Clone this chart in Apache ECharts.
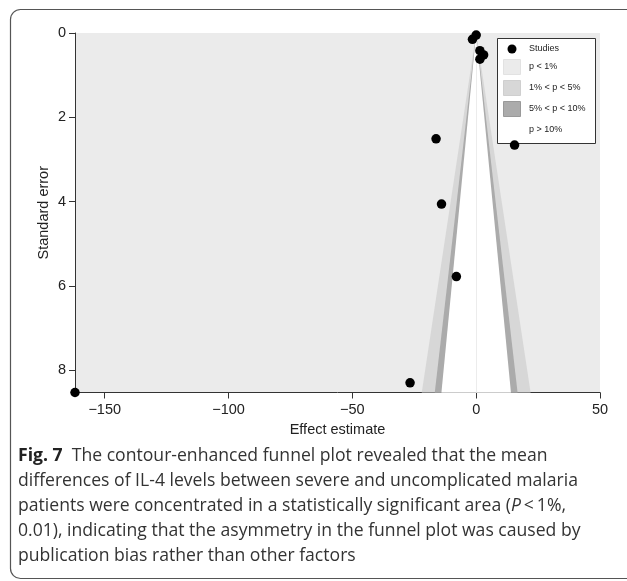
<!DOCTYPE html>
<html>
<head>
<meta charset="utf-8">
<script src="https://cdn.jsdelivr.net/npm/echarts@6/dist/echarts.min.js"></script>
<style>
  html, body { margin: 0; padding: 0; background: #ffffff; }
  #chart { width: 627px; height: 581px; }
</style>
</head>
<body>
<div id="chart"></div>
<script>
// studies (effect estimate, standard error)
const effectEstimates = [-1.5, 0.0, 1.5, 3.0, 1.5, -16.2, 15.5, -14.0, -8.0, -26.7, -162];
const standardErrors = [0.15, 0.05, 0.42, 0.52, 0.62, 2.51, 2.66, 4.06, 5.78, 8.30, 8.53];

// contour z values: p = 1%, 5%, 10%
const contourZ = [2.576, 1.96, 1.645];
const contourNames = ['1% < p < 5%', '5% < p < 10%', 'p > 10%'];
const seMax = 8.53;
const xMin = -162;
const xMax = 50;

const xTicks = [-150, -100, -50, 0, 50];
const yTicks = [0, 2, 4, 6, 8];

const bandColors = ['#d7d7d7', '#ababab', '#ffffff'];

const chart = echarts.init(document.getElementById('chart'));

const studies = effectEstimates.map((x, i) => [x, standardErrors[i]]);
const minus = v => String(v).replace('-', '\u2212');
const axisFont = { fontFamily: 'Liberation Sans, Arial, sans-serif', fontSize: 14.5, color: '#222' };
const capFont = 'Open Sans';
const capSize = 17.6;

chart.setOption({
  animation: false,
  grid: {
    left: 75, right: 27, top: 33, bottom: 188.5,
    show: true, backgroundColor: '#ebebeb', borderWidth: 0
  },
  xAxis: {
    type: 'value', min: xMin, max: xMax,
    name: 'Effect estimate', nameLocation: 'middle', nameGap: 30,
    nameTextStyle: axisFont,
    axisLine: { onZero: false, lineStyle: { color: '#333', width: 1 } },
    axisTick: { customValues: xTicks, length: 6, lineStyle: { color: '#333' } },
    axisLabel: { customValues: xTicks, margin: 10, formatter: minus, ...axisFont },
    splitLine: { show: false }
  },
  yAxis: {
    type: 'value', inverse: true, min: 0, max: seMax,
    name: 'Standard error', nameLocation: 'middle', nameGap: 24, nameRotate: 90,
    nameMoveOverlap: false,
    nameTextStyle: axisFont,
    axisLine: { onZero: false, lineStyle: { color: '#333', width: 1 } },
    axisTick: { customValues: yTicks, length: 6, lineStyle: { color: '#333' } },
    axisLabel: { customValues: yTicks, margin: 9, ...axisFont },
    splitLine: { show: false }
  },
  series: [
    {
      type: 'custom',
      name: 'contours',
      silent: true,
      data: contourZ.map((z, i) => [z, i]),
      renderItem: function (params, api) {
        const z = api.value(0);
        const i = api.value(1);
        const apex = api.coord([0, 0]);
        const bl = api.coord([-z * seMax, seMax]);
        const br = api.coord([z * seMax, seMax]);
        return {
          type: 'polygon',
          shape: { points: [apex, bl, br] },
          style: { fill: bandColors[i] }
        };
      },
      z: 1
    },
    {
      type: 'scatter',
      name: 'Studies',
      data: studies,
      symbolSize: 9.5,
      itemStyle: { color: '#000', opacity: 1 },
      z: 5,
      markLine: {
        silent: true,
        symbol: 'none',
        label: { show: false },
        lineStyle: { color: '#ececec', width: 1, type: 'solid' },
        data: [{ xAxis: 0 }]
      }
    }
  ],
  graphic: [
    // figure frame
    {
      type: 'rect', silent: true,
      shape: { x: 10.5, y: 9.5, width: 700, height: 569, r: 10 },
      style: { fill: 'none', stroke: '#555', lineWidth: 1.2 }
    },
    // legend
    {
      type: 'group', left: 497, top: 38, z: 100,
      children: [
        { type: 'rect', shape: { x: 0.5, y: 0.5, width: 98, height: 105 },
          style: { fill: '#fff', stroke: '#333', lineWidth: 1 } },
        { type: 'circle', shape: { cx: 15, cy: 11, r: 4.5 }, style: { fill: '#000' } },
        { type: 'text', style: { x: 32, y: 11, text: 'Studies', fontSize: 9, fontFamily: 'Liberation Sans, Arial', fill: '#222', verticalAlign: 'middle' } },
        { type: 'rect', shape: { x: 6.5, y: 21.5, width: 17, height: 15 }, style: { fill: '#ebebeb', stroke: '#e2e2e2' } },
        { type: 'text', style: { x: 32, y: 29, text: 'p < 1%', fontSize: 9, fontFamily: 'Liberation Sans, Arial', fill: '#222', verticalAlign: 'middle' } },
        { type: 'rect', shape: { x: 6.5, y: 42.5, width: 17, height: 15 }, style: { fill: '#d7d7d7', stroke: '#cfcfcf' } },
        { type: 'text', style: { x: 32, y: 50, text: contourNames[0], fontSize: 9, fontFamily: 'Liberation Sans, Arial', fill: '#222', verticalAlign: 'middle' } },
        { type: 'rect', shape: { x: 6.5, y: 63.5, width: 17, height: 15 }, style: { fill: '#ababab', stroke: '#999' } },
        { type: 'text', style: { x: 32, y: 71, text: contourNames[1], fontSize: 9, fontFamily: 'Liberation Sans, Arial', fill: '#222', verticalAlign: 'middle' } },
        { type: 'text', style: { x: 32, y: 92, text: contourNames[2], fontSize: 9, fontFamily: 'Liberation Sans, Arial', fill: '#222', verticalAlign: 'middle' } }
      ]
    },
    // caption
    {
      type: 'group', left: 18, top: 447,
      children: [
        { type: 'text', style: { x: 0, y: 14, verticalAlign: 'middle',
          text: '{b|Fig. 7}  The contour-enhanced funnel plot revealed that the mean',
          fontFamily: capFont, fontSize: capSize, fill: '#333',
          rich: { b: { fontWeight: 'bold', fontFamily: capFont, fontSize: capSize, fill: '#222' } } } },
        { type: 'text', style: { x: 0, y: 39, verticalAlign: 'middle',
          text: 'differences of IL-4 levels between severe and uncomplicated malaria',
          fontFamily: capFont, fontSize: capSize, fill: '#333' } },
        { type: 'text', style: { x: 0, y: 64, verticalAlign: 'middle',
          text: 'patients were concentrated in a statistically significant area ({i|P}\u2009<\u20091%,',
          fontFamily: capFont, fontSize: capSize, fill: '#333',
          rich: { i: { fontStyle: 'italic', fontFamily: capFont, fontSize: capSize, fill: '#333' } } } },
        { type: 'text', style: { x: 0, y: 89, verticalAlign: 'middle',
          text: '0.01), indicating that the asymmetry in the funnel plot was caused by',
          fontFamily: capFont, fontSize: capSize, fill: '#333' } },
        { type: 'text', style: { x: 0, y: 114, verticalAlign: 'middle',
          text: 'publication bias rather than other factors',
          fontFamily: capFont, fontSize: capSize, fill: '#333' } }
      ]
    }
  ]
});
</script>
</body>
</html>
